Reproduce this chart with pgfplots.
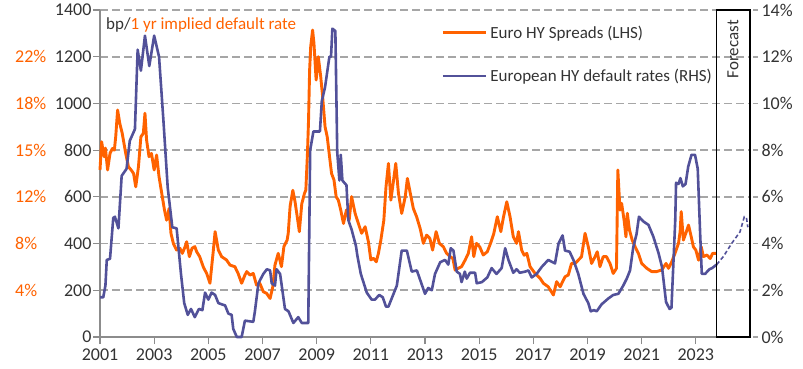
\documentclass[border=0pt]{standalone}
\usepackage{fontspec}
\setmainfont{Carlito}
\usepackage{pgfplots}
\pgfplotsset{compat=1.18}
\definecolor{ingorange}{HTML}{FF6200}
\definecolor{ingblue}{HTML}{525199}
\definecolor{gridgray}{HTML}{A6A6A6}
\definecolor{axgray}{HTML}{8C8C8C}
\definecolor{txt}{HTML}{333333}
\newcommand{\chartfont}{\fontsize{18}{21}\selectfont}
\newcommand{\legfont}{\fontsize{17}{20}\selectfont}
\begin{document}
\begin{tikzpicture}
\path[use as bounding box] (-100pt,-32pt) rectangle (703pt,337pt);
\begin{axis}[
  scale only axis, width=650pt, height=327pt,
  xmin=2001, xmax=2025, ymin=0, ymax=1400,
  axis x line*=bottom, axis y line*=left,
  axis line style={axgray, line width=1.2pt},
  xtick={2001,2003,...,2023}, ytick={0,200,...,1400},
  tick align=outside, major tick length=7pt,
  tick style={axgray, line width=1.2pt},
  ymajorgrids, grid style={gridgray, dash pattern=on 8pt off 4pt, line width=1.8pt},
  /pgf/number format/.cd, 1000 sep={}, assume math mode=true, /pgfplots/.cd,
  ticklabel style={font=\chartfont, text=txt},
  yticklabel style={xshift=2pt},
  xticklabel style={yshift=-1pt},
  clip=false,
]
\addplot[ingorange, line width=2.9pt, line join=round] coordinates {
(2001.00,715) (2001.06,836) (2001.15,772) (2001.20,809) (2001.28,715) (2001.37,786)
(2001.46,807) (2001.53,800) (2001.58,857) (2001.65,972) (2001.73,915) (2001.82,872)
(2001.95,786) (2002.05,729) (2002.15,715) (2002.24,700) (2002.32,643) (2002.42,729)
(2002.51,857) (2002.60,872) (2002.66,958) (2002.72,843) (2002.81,772) (2002.90,786)
(2003.00,715) (2003.09,779) (2003.18,686) (2003.28,615) (2003.38,544) (2003.46,500)
(2003.55,550) (2003.62,444) (2003.71,400) (2003.83,372) (2003.95,380) (2004.04,358)
(2004.14,386) (2004.20,408) (2004.30,344) (2004.40,380) (2004.50,387) (2004.57,365)
(2004.68,344) (2004.82,298) (2004.94,272) (2005.06,230) (2005.18,365) (2005.25,451)
(2005.37,372) (2005.49,344) (2005.67,330) (2005.80,308) (2005.98,301) (2006.10,272)
(2006.23,230) (2006.35,265) (2006.42,280) (2006.54,265) (2006.66,272) (2006.78,222)
(2006.90,230) (2007.03,194) (2007.15,187) (2007.28,165) (2007.38,215) (2007.46,308)
(2007.58,358) (2007.70,301) (2007.79,387) (2007.91,415) (2007.95,444) (2008.02,560)
(2008.12,628) (2008.20,580) (2008.30,501) (2008.36,451) (2008.45,570) (2008.55,615)
(2008.60,629) (2008.66,786) (2008.70,929) (2008.74,1143) (2008.78,1243) (2008.85,1314)
(2008.90,1257) (2008.98,1100) (2009.06,1200) (2009.15,1114) (2009.22,1029) (2009.31,900)
(2009.39,857) (2009.49,758) (2009.55,700) (2009.64,672) (2009.72,600) (2009.80,586)
(2009.89,543) (2009.99,486) (2010.10,544) (2010.20,500) (2010.29,601) (2010.42,529)
(2010.54,486) (2010.66,444) (2010.79,472) (2010.91,408) (2011.00,330) (2011.10,337)
(2011.20,322) (2011.28,358) (2011.37,415) (2011.48,500) (2011.56,643) (2011.65,743)
(2011.74,586) (2011.84,672) (2011.92,743) (2012.02,615) (2012.14,529) (2012.27,600)
(2012.35,679) (2012.45,620) (2012.57,550) (2012.69,515) (2012.82,465) (2012.94,401)
(2013.06,436) (2013.18,422) (2013.28,372) (2013.41,451) (2013.53,401) (2013.68,386)
(2013.80,358) (2013.93,344) (2014.03,336) (2014.11,287) (2014.23,294) (2014.35,301)
(2014.48,329) (2014.60,358) (2014.72,429) (2014.80,344) (2014.90,401) (2015.02,386)
(2015.15,351) (2015.30,365) (2015.42,401) (2015.54,443) (2015.67,515) (2015.80,451)
(2015.90,515) (2016.02,579) (2016.14,515) (2016.26,429) (2016.38,401) (2016.45,451)
(2016.57,372) (2016.66,350) (2016.76,358) (2016.88,301) (2017.06,273) (2017.25,251)
(2017.37,230) (2017.55,215) (2017.74,180) (2017.86,237) (2017.99,215) (2018.17,258)
(2018.29,265) (2018.41,315) (2018.54,315) (2018.66,329) (2018.78,344) (2018.91,444)
(2019.03,386) (2019.15,315) (2019.28,344) (2019.36,365) (2019.46,301) (2019.58,344)
(2019.70,344) (2019.83,315) (2019.95,272) (2020.07,294) (2020.12,715) (2020.20,543)
(2020.26,572) (2020.35,501) (2020.42,429) (2020.47,530) (2020.55,458) (2020.65,415)
(2020.76,386) (2020.88,358) (2021.00,315) (2021.19,294) (2021.37,280) (2021.55,280)
(2021.74,287) (2021.90,315) (2021.99,294) (2022.11,322) (2022.23,358) (2022.36,401)
(2022.42,451) (2022.46,537) (2022.54,415) (2022.63,444) (2022.73,479) (2022.83,429)
(2022.91,386) (2023.00,372) (2023.10,329) (2023.20,386) (2023.28,344) (2023.41,351)
(2023.53,336) (2023.62,358) (2023.74,358)
};
\node[anchor=base west, font=\legfont, inner sep=0pt] at ([xshift=6pt]rel axis cs:0,0.94) {\textcolor{txt}{bp/}\textcolor{ingorange}{1 yr implied default rate}};
\node[anchor=west, font=\chartfont, text=ingorange, inner sep=0pt] at ([xshift=-85pt]axis cs:2001,1200) {22\%};
\node[anchor=west, font=\chartfont, text=ingorange, inner sep=0pt] at ([xshift=-85pt]axis cs:2001,1000) {18\%};
\node[anchor=west, font=\chartfont, text=ingorange, inner sep=0pt] at ([xshift=-85pt]axis cs:2001,800) {15\%};
\node[anchor=west, font=\chartfont, text=ingorange, inner sep=0pt] at ([xshift=-85pt]axis cs:2001,600) {12\%};
\node[anchor=west, font=\chartfont, text=ingorange, inner sep=0pt] at ([xshift=-85pt]axis cs:2001,400) {8\%};
\node[anchor=west, font=\chartfont, text=ingorange, inner sep=0pt] at ([xshift=-85pt]axis cs:2001,200) {4\%};
\end{axis}
\begin{axis}[
  scale only axis, width=650pt, height=327pt,
  xmin=2001, xmax=2025, ymin=0, ymax=14,
  axis x line=none, axis y line*=right,
  y axis line style={draw=none},
  ytick={0,2,...,14},
  yticklabel={\pgfmathprintnumber{\tick}\%},
  /pgf/number format/.cd, assume math mode=true, /pgfplots/.cd,
  tick align=outside, major tick length=8pt,
  ytick style={gridgray, dash pattern=on 5pt off 3pt, line width=1.8pt},
  yticklabel style={font=\chartfont, text=txt, xshift=0pt},
  clip=false,
  legend style={at={(rel axis cs:0.525,0.958)}, anchor=north west, draw=none, fill=none,
    font=\legfont, text=txt, row sep=25pt, inner sep=0pt,
    nodes={inner xsep=3pt}},
  legend cell align=left,
  legend image code/.code={\draw[#1] (0pt,0pt) -- (43pt,0pt);},
]
\addlegendimage{ingorange, line width=3pt}
\addlegendentry{Euro HY Spreads (LHS)}
\addplot[ingblue, line width=2.6pt, line join=round] coordinates {
(2001.00,1.7) (2001.12,1.7) (2001.20,2.2) (2001.25,3.3) (2001.37,3.35) (2001.49,5.1)
(2001.55,5.15) (2001.68,4.65) (2001.80,6.9) (2001.98,7.2) (2002.10,8.4) (2002.29,8.9)
(2002.39,12.3) (2002.51,11.4) (2002.66,12.9) (2002.82,11.6) (2003.00,12.9) (2003.18,12.0)
(2003.34,9.3) (2003.50,6.4) (2003.67,4.7) (2003.83,4.65) (2003.99,2.7) (2004.11,1.45)
(2004.24,0.95) (2004.36,1.2) (2004.50,0.85) (2004.65,1.2) (2004.78,1.15) (2004.88,1.9)
(2005.00,1.6) (2005.12,1.9) (2005.25,1.8) (2005.37,1.45) (2005.62,1.35) (2005.74,1.0)
(2005.86,0.95) (2005.92,0.35) (2006.05,0.0) (2006.23,0.0) (2006.35,0.7) (2006.66,0.65)
(2006.72,1.1) (2006.85,2.3) (2007.03,2.7) (2007.16,2.9) (2007.28,2.85) (2007.34,2.3)
(2007.46,2.2) (2007.52,2.9) (2007.65,2.7) (2007.83,1.2) (2007.96,1.1) (2008.14,0.6)
(2008.32,0.85) (2008.45,0.6) (2008.69,0.6) (2008.76,8.0) (2008.88,8.8) (2009.12,8.8)
(2009.19,10.1) (2009.31,10.7) (2009.47,12.0) (2009.53,12.0) (2009.58,13.2) (2009.69,13.1)
(2009.76,7.9) (2009.84,6.7) (2009.89,7.8) (2009.95,6.7) (2010.10,6.5) (2010.17,5.0)
(2010.29,4.6) (2010.45,3.9) (2010.50,3.5) (2010.63,2.7) (2010.85,1.9) (2011.03,1.6)
(2011.15,1.6) (2011.31,1.8) (2011.44,1.7) (2011.56,1.3) (2011.65,1.3) (2011.96,2.2)
(2012.14,3.7) (2012.33,3.7) (2012.51,2.8) (2012.70,2.85) (2012.82,2.45) (2013.00,1.85)
(2013.12,2.1) (2013.25,2.0) (2013.37,2.7) (2013.56,3.2) (2013.74,3.3) (2013.86,3.1)
(2013.95,3.8) (2014.05,3.7) (2014.17,2.8) (2014.29,2.7) (2014.35,2.35) (2014.47,2.8)
(2014.54,2.5) (2014.66,2.75) (2014.85,2.75) (2014.91,2.3) (2015.10,2.35) (2015.30,2.55)
(2015.46,2.95) (2015.64,2.7) (2015.83,2.95) (2015.96,3.8) (2016.08,3.3) (2016.26,2.75)
(2016.38,2.9) (2016.50,2.75) (2016.70,2.8) (2016.82,2.85) (2016.94,2.55) (2017.12,2.7)
(2017.31,3.0) (2017.55,3.3) (2017.80,3.15) (2017.93,4.0) (2018.08,4.35) (2018.17,3.7)
(2018.34,3.65) (2018.48,3.3) (2018.66,2.7) (2018.85,1.85) (2019.03,1.45) (2019.12,1.1)
(2019.24,1.15) (2019.34,1.1) (2019.52,1.4) (2019.77,1.65) (2019.95,1.8) (2020.14,1.85)
(2020.32,2.2) (2020.45,2.5) (2020.57,2.85) (2020.69,3.85) (2020.81,4.4) (2020.90,5.15)
(2021.06,4.95) (2021.25,4.8) (2021.43,4.3) (2021.62,3.6) (2021.75,3.0) (2021.84,2.1)
(2021.90,1.5) (2022.03,1.2) (2022.10,1.25) (2022.24,5.0) (2022.27,6.6) (2022.36,6.55)
(2022.43,6.8) (2022.52,6.45) (2022.62,6.55) (2022.72,7.3) (2022.84,7.8) (2022.97,7.8)
(2023.07,7.2) (2023.16,4.4) (2023.22,2.7) (2023.34,2.7) (2023.50,2.9) (2023.60,2.95)
(2023.77,3.1)
};
\addlegendentry{European HY default rates (RHS)}
\addplot[ingblue, line width=1.6pt, dash pattern=on 4pt off 2.5pt, forget plot] coordinates {
(2023.77,3.1) (2024.02,3.45) (2024.32,4.0) (2024.63,4.5) (2024.79,5.15) (2024.87,5.1) (2024.92,4.7)
};
\draw[black, line width=1.2pt] (axis cs:2023.75,0) rectangle (axis cs:2025,14);
\node[rotate=90, anchor=east, font=\legfont, text=txt, inner sep=0pt] at (axis cs:2024.37,13.57) {Forecast};
\end{axis}
\end{tikzpicture}
\end{document}
